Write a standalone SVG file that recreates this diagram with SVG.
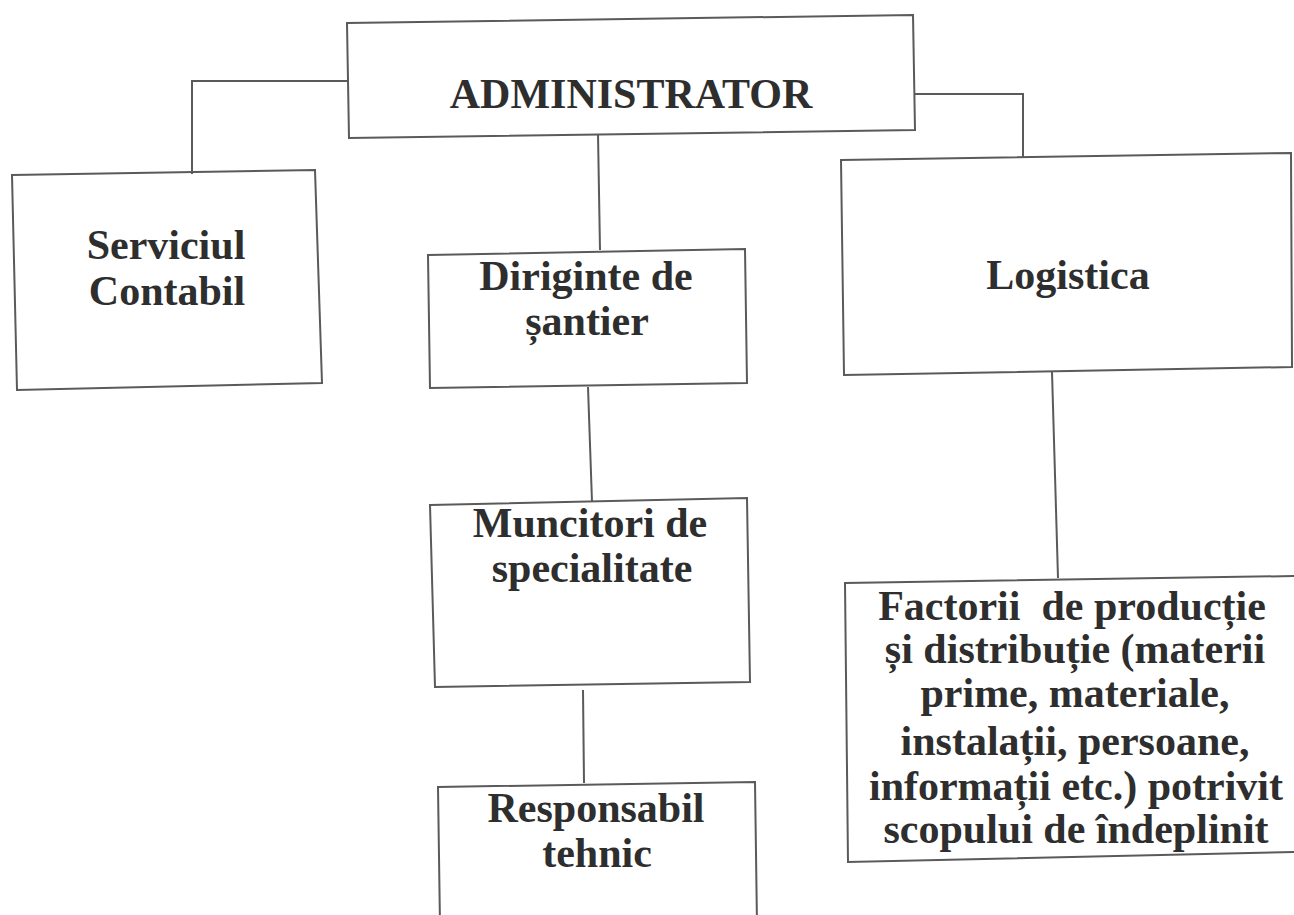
<svg xmlns="http://www.w3.org/2000/svg" width="1294" height="915" viewBox="0 0 1294 915">
<style>
.box{fill:none;stroke:#5a5a5a;stroke-width:2}
.con{fill:none;stroke:#5a5a5a;stroke-width:2}
text{font-family:"Liberation Serif","Times New Roman",serif;font-weight:bold;font-size:42px;fill:#2e2e2e;text-anchor:middle}
</style>
<rect width="1294" height="915" fill="#ffffff"/>
<g id="connectors">
<polyline class="con" points="347,81 192,81 192,174"/>
<line class="con" x1="598" y1="134" x2="600" y2="250"/>
<polyline class="con" points="915,94 1023,94 1023,157"/>
<line class="con" x1="588" y1="387" x2="592" y2="502"/>
<line class="con" x1="583" y1="690" x2="584" y2="783"/>
<line class="con" x1="1052" y1="372" x2="1058" y2="578"/>
</g>
<g id="administrator">
<polygon class="box" points="347,23 913,15 915,130 349,138"/>
<text x="631" y="108">ADMINISTRATOR</text>
</g>
<g id="serviciul-contabil">
<polygon class="box" points="12,175 315,170 322,383 17,390"/>
<text x="166" y="259">Serviciul</text>
<text x="167" y="305">Contabil</text>
</g>
<g id="logistica">
<polygon class="box" points="841,160 1291,153 1292,367 844,375"/>
<text x="1068" y="289">Logistica</text>
</g>
<g id="diriginte">
<polygon class="box" points="428,255 745,249 747,383 430,388"/>
<text x="586" y="290">Diriginte de</text>
<text x="587" y="335">șantier</text>
</g>
<g id="muncitori">
<polygon class="box" points="430,505 747,498 750,682 435,687"/>
<text x="590" y="537">Muncitori de</text>
<text x="592" y="582">specialitate</text>
</g>
<g id="responsabil">
<polyline class="box" points="440,925 438,787 755,782 757,925"/>
<text x="596" y="822">Responsabil</text>
<text x="597" y="867">tehnic</text>
</g>
<g id="factorii">
<polyline class="box" points="1296,576 845,583 848,862 1296,852"/>
<text x="1072" y="620">Factorii&#160; de producție</text>
<text x="1075" y="663">și distribuție (materii</text>
<text x="1075" y="707">prime, materiale,</text>
<text x="1075" y="755">instalații, persoane,</text>
<text x="1076" y="800">informații etc.) potrivit</text>
<text x="1076" y="843">scopului de îndeplinit</text>
</g>
</svg>
